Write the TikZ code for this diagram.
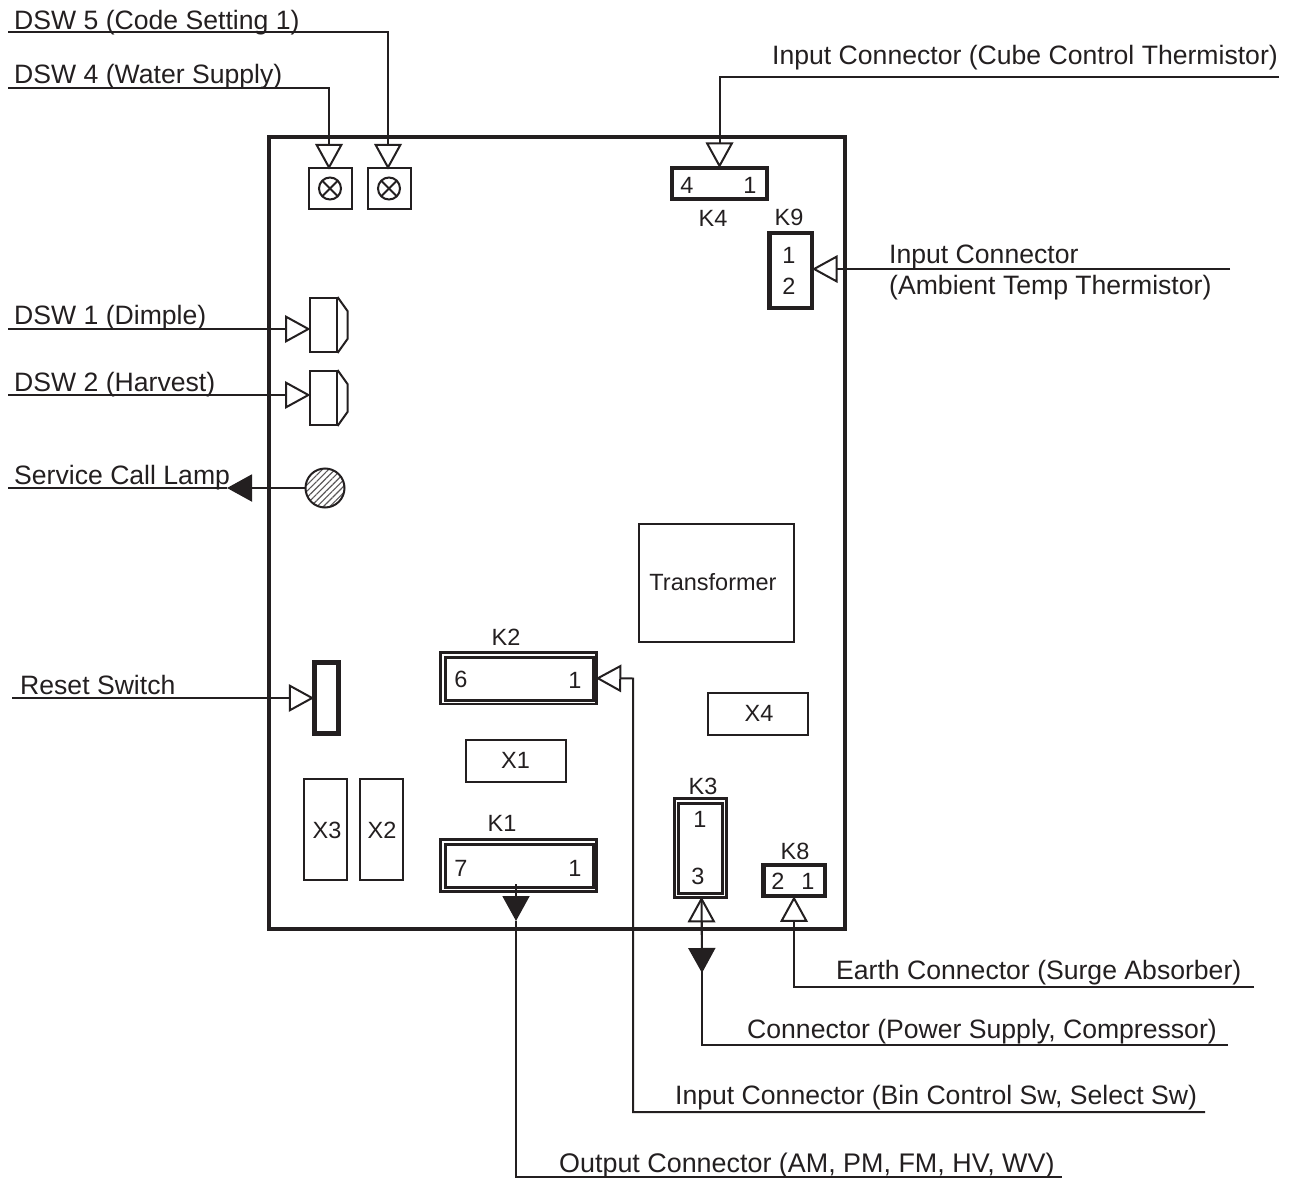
\documentclass[tikz,border=0pt]{standalone}
\usepackage{fontspec}
\setmainfont{Liberation Sans}
\usetikzlibrary{arrows.meta,patterns.meta}
\definecolor{ink}{HTML}{231F20}
\tikzset{
  ln/.style={line width=2pt,draw=ink},
  thinbox/.style={draw=ink,line width=2pt,inner sep=0pt,fill=white},
  thickbox/.style={draw=ink,line width=4.5pt,inner sep=0pt},
  dblout/.style={draw=ink,line width=2.5pt,inner sep=0pt},
  dblin/.style={draw=ink,line width=3pt,inner sep=0pt},
  lbl/.style={text=ink,font=\fontsize{26.6}{26.6}\selectfont,anchor=base west,inner sep=0pt},
  sm/.style={text=ink,font=\fontsize{23.5}{23.5}\selectfont,inner sep=0pt},
  opentip/.style={ln,shorten >=-2pt,-{Triangle[open,length=25.5pt,width=27.5pt,line width=2pt]}},
  solidtip/.style={ln,-{Triangle[length=25pt,width=27pt]}},
}
\begin{document}
\begin{tikzpicture}[x=1pt,y=-1pt]
\useasboundingbox (0,0) rectangle (1291,1180);
% main board
\node[draw=ink,line width=4.5pt,inner sep=0pt,minimum width=576pt,minimum height=792pt] (board) at (557,533) {};
% rotary switches
\node[thinbox,minimum width=43pt,minimum height=40pt] (sw4) at (330,188.5) {};
\node[thinbox,minimum width=43pt,minimum height=40pt] (sw5) at (389,188.5) {};
\draw[ln] (sw4.center) circle (11);
\draw[ln] (sw5.center) circle (11);
\draw[ln] ([shift={(-7.8,-7.8)}]sw4.center) -- ([shift={(7.8,7.8)}]sw4.center);
\draw[ln] ([shift={(-7.8,7.8)}]sw4.center) -- ([shift={(7.8,-7.8)}]sw4.center);
\draw[ln] ([shift={(-7.8,-7.8)}]sw5.center) -- ([shift={(7.8,7.8)}]sw5.center);
\draw[ln] ([shift={(-7.8,7.8)}]sw5.center) -- ([shift={(7.8,-7.8)}]sw5.center);
% DIP switches
\node[thinbox,minimum width=27pt,minimum height=54pt] (dsw1) at (323,325) {};
\node[thinbox,minimum width=27pt,minimum height=54pt] (dsw2) at (323,398) {};
\draw[ln,line join=miter] (dsw1.north east) -- ++(10,14) -- ++(0,28) -- (dsw1.south east);
\draw[ln,line join=miter] (dsw2.north east) -- ++(10,14) -- ++(0,28) -- (dsw2.south east);
% lamp
\node[circle,draw=ink,line width=2pt,inner sep=0pt,minimum size=39pt,
  pattern={Lines[angle=45,distance=4.5pt,line width=1.1pt]},pattern color=ink!75] (lamp) at (325,488) {};
% reset
\node[thickbox,minimum width=24pt,minimum height=71pt] (reset) at (326.5,698) {};
% chips
\node[thinbox,minimum width=43pt,minimum height=101pt,sm] (x3) at (325,829) {};
\node[thinbox,minimum width=43pt,minimum height=101pt,sm] (x2) at (381,829) {};
\node[thinbox,minimum width=100pt,minimum height=42pt,sm] (x1) at (515.5,760.5) {};
\node[thinbox,minimum width=100pt,minimum height=42pt,sm] (x4) at (758,713.5) {};
\node[thinbox,minimum width=155pt,minimum height=118pt,sm] (tr) at (716,582.5) {};
\node[sm] (x3t) at (327,830) {X3};
\node[sm] (x2t) at (382,830) {X2};
\node[sm] (x1t) at (515.5,760) {X1};
\node[sm] (x4t) at (759,713) {X4};
\node[sm] (trt) at (713,582) {Transformer};
% connectors K2, K1
\node[dblout,minimum width=156pt,minimum height=51.5pt] (k2) at (518.5,678.25) {};
\node[dblin,minimum width=148pt,minimum height=43pt] (k2in) at (519,678.5) {};
\node[sm] (k2t) at (506,637) {K2};
\node[sm] (k2a) at (461,679) {6};
\node[sm] (k2b) at (575,680) {1};
\node[dblout,minimum width=156pt,minimum height=52pt] (k1) at (518.5,865.5) {};
\node[dblin,minimum width=148pt,minimum height=43pt] (k1in) at (519,865.5) {};
\node[sm] (k1t) at (502,823) {K1};
\node[sm] (k1a) at (461,868) {7};
\node[sm] (k1b) at (575,868) {1};
% K3
\node[dblout,minimum width=52pt,minimum height=99pt] (k3) at (700.5,848) {};
\node[dblin,minimum width=43.5pt,minimum height=90pt] (k3in) at (700.25,848) {};
\node[sm] (k3t) at (703,786) {K3};
\node[sm] (k3a) at (700,819) {1};
\node[sm] (k3b) at (698,876) {3};
% K8
\node[thickbox,minimum width=61.5pt,minimum height=31pt] (k8) at (794,880.5) {};
\node[sm] (k8t) at (795,851) {K8};
\node[sm] (k8a) at (778,881) {2};
\node[sm] (k8b) at (808,881) {1};
% K4
\node[thickbox,minimum width=95pt,minimum height=30.5pt] (k4) at (719.5,183.5) {};
\node[sm] (k4t) at (713,218) {K4};
\node[sm] (k4a) at (687,185) {4};
\node[sm] (k4b) at (750,185) {1};
% K9
\node[thickbox,minimum width=42.5pt,minimum height=75pt] (k9) at (790.5,270.5) {};
\node[sm] (k9t) at (789,217) {K9};
\node[sm] (k9a) at (789,255) {1};
\node[sm] (k9b) at (789,286) {2};
% free ends
\coordinate (e5) at (8,32);   \coordinate (b5) at (388,32);
\coordinate (e4) at (8,88);   \coordinate (b4) at (329,88);
\coordinate (ek4) at (1279,77);
\coordinate (ek9) at (1230,269);
\coordinate (ed1) at (8,329);
\coordinate (ed2) at (8,395);
\coordinate (tl) at (227,488); \coordinate (el) at (8,488);
\coordinate (er) at (12,698);
\coordinate (ek2) at (1205,1112); \coordinate (bk2) at (633,678.5);
\coordinate (sk1) at (516,884); \coordinate (tk1) at (516,921); \coordinate (ek1) at (1062,1177);
\coordinate (ek3) at (1228,1045); \coordinate (tk3) at (702,973);
\coordinate (ek8) at (1254,987);
% connectors
\draw[opentip] (e5) -- (b5) -- (b5 |- sw5.north);
\draw[opentip] (e4) -- (b4) -- (b4 |- sw4.north);
\draw[opentip] (ek4) -| (k4.north);
\draw[opentip] (ek9) -- (ek9 -| k9.east);
\draw[opentip] (ed1) -- (ed1 -| dsw1.west);
\draw[opentip] (ed2) -- (ed2 -| dsw2.west);
\draw[solidtip] (lamp.west) -- (tl);
\draw[ln] (tl) -- (el);
\draw[opentip] (er) -- (reset.west);
\draw[opentip] (ek2) -| (bk2) -- (k2.east);
\draw[solidtip] (sk1) -- (tk1);
\draw[ln] (tk1) |- (ek1);
\draw[opentip] (ek3) -| ([xshift=1pt]k3.south);
\draw[solidtip] ([xshift=1pt]k3.south) -- (tk3);
\draw[opentip] (ek8) -| (k8.south);
% labels
\node[lbl] (t5) at (14,30) {DSW 5 (Code Setting 1)};
\node[lbl] (t4) at (14,84) {DSW 4 (Water Supply)};
\node[lbl] (t1) at (14,324) {DSW 1 (Dimple)};
\node[lbl] (t2) at (14,391) {DSW 2 (Harvest)};
\node[lbl] (tlamp) at (14,484) {Service Call Lamp};
\node[lbl] (trs) at (20,694) {Reset Switch};
\node[lbl] (tk4c) at (772,65) {Input Connector (Cube Control Thermistor)};
\node[lbl] (tk9a) at (889,263) {Input Connector};
\node[lbl] (tk9c) at (889,294) {(Ambient Temp Thermistor)};
\node[lbl] (tk8c) at (836,979) {Earth Connector (Surge Absorber)};
\node[lbl] (tk3c) at (747,1038) {Connector (Power Supply, Compressor)};
\node[lbl] (tk2c) at (675,1104) {Input Connector (Bin Control Sw, Select Sw)};
\node[lbl,font=\fontsize{26.9}{26.9}\selectfont] (tk1c) at (559,1172) {Output Connector (AM, PM, FM, HV, WV)};
\end{tikzpicture}
\end{document}
